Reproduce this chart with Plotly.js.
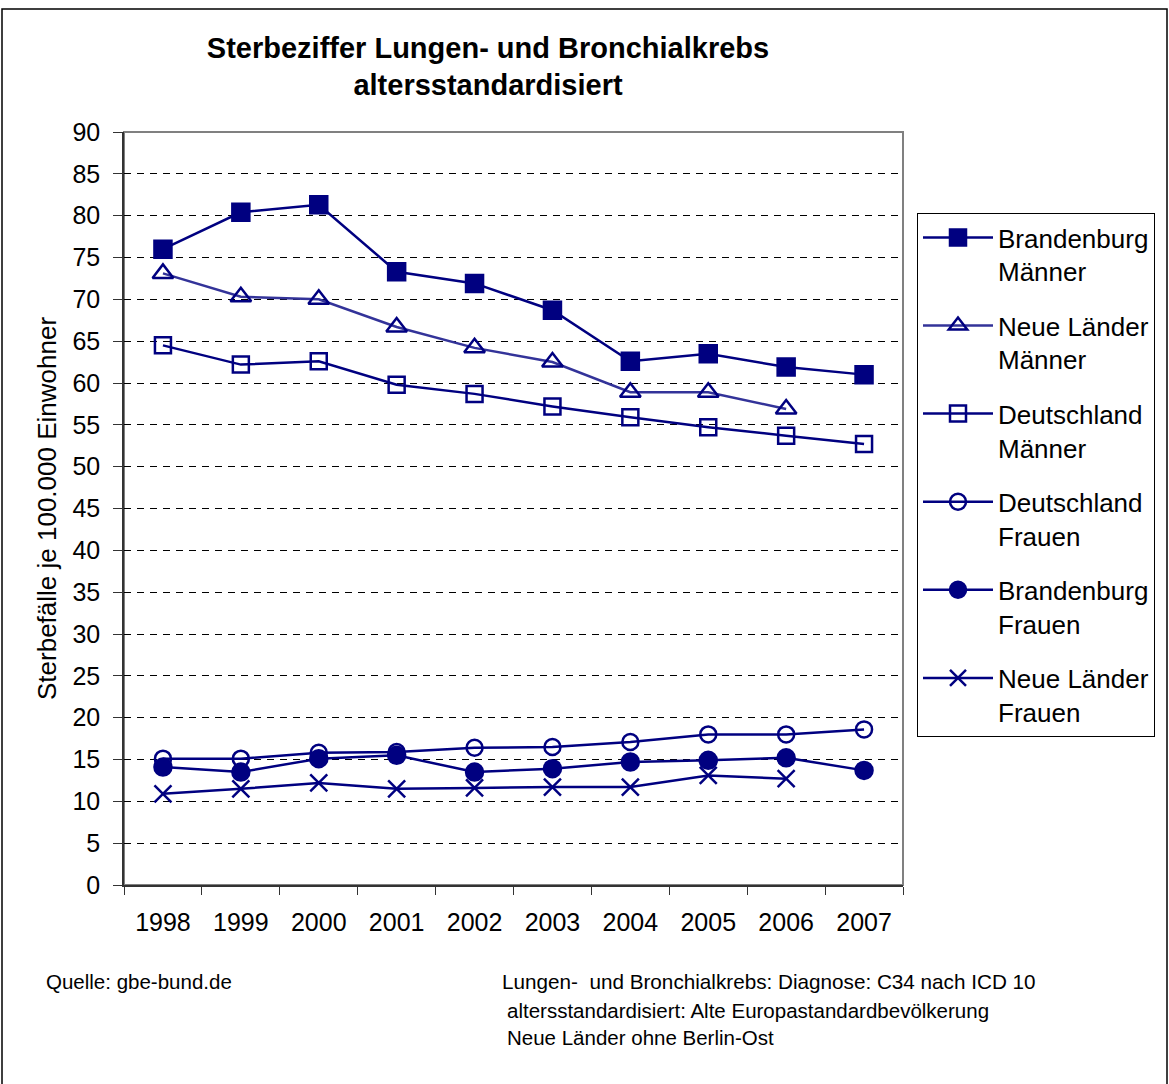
<!DOCTYPE html>
<html>
<head>
<meta charset="utf-8">
<script src="https://cdn.plot.ly/plotly-3.0.1.min.js"></script>
<style>
  html, body { margin: 0; padding: 0; background: #fff; }
  #chart { width: 1169px; height: 1084px; }
</style>
</head>
<body>
<div id="chart"></div>
<script>
const years = ['1998', '1999', '2000', '2001', '2002', '2003', '2004', '2005', '2006', '2007'];

const brandenburgMaenner = [76.0, 80.4, 81.3, 73.3, 71.9, 68.7, 62.6, 63.5, 61.9, 61.0];
const neueLaenderMaenner = [73.1, 70.3, 70.0, 66.7, 64.2, 62.5, 58.9, 58.9, 56.9, null];
const deutschlandMaenner = [64.5, 62.2, 62.6, 59.8, 58.7, 57.2, 55.9, 54.7, 53.7, 52.7];
const deutschlandFrauen  = [15.1, 15.1, 15.8, 15.9, 16.4, 16.5, 17.1, 18.0, 18.0, 18.6];
const brandenburgFrauen  = [14.1, 13.5, 15.1, 15.5, 13.5, 13.9, 14.7, 14.9, 15.2, 13.7];
const neueLaenderFrauen  = [10.9, 11.5, 12.2, 11.5, 11.6, 11.7, 11.7, 13.1, 12.7, null];

const seriesNames = [
  'Brandenburg<br>Männer',
  'Neue Länder<br>Männer',
  'Deutschland<br>Männer',
  'Deutschland<br>Frauen',
  'Brandenburg<br>Frauen',
  'Neue Länder<br>Frauen'
];

const NAVY = '#000080';
const FONT = 'Liberation Sans, Arial, sans-serif';

function trace(name, y, symbol, size, lineColor, lineWidth, group) {
  return {
    type: 'scatter',
    mode: 'lines+markers',
    x: years,
    y: y,
    name: name,
    legendgroup: group,
    connectgaps: false,
    line: { color: lineColor, width: lineWidth },
    marker: { symbol: symbol, size: size, color: NAVY, line: { color: NAVY, width: 2.5 } },
    cliponaxis: false,
    hoverinfo: 'x+y+name'
  };
}

const data = [
  trace(seriesNames[0], brandenburgMaenner, 'square', 17, NAVY, 2.5, 'g1'),
  trace(seriesNames[1], neueLaenderMaenner, 'triangle-up-open', 18, '#333399', 2.5, 'g2'),
  trace(seriesNames[2], deutschlandMaenner, 'square-open', 16, NAVY, 2.5, 'g3'),
  trace(seriesNames[3], deutschlandFrauen, 'circle-open', 16, NAVY, 2.5, 'g4'),
  trace(seriesNames[4], brandenburgFrauen, 'circle', 17, NAVY, 2.5, 'g5'),
  trace(seriesNames[5], neueLaenderFrauen, 'x-thin-open', 17, NAVY, 2.5, 'g6')
];

// plot area: x 124..903, y 132..885
const L = 124, R = 903, T = 132, B = 885, W = 1169, H = 1084;
const pw = R - L, ph = B - T;
const px = v => (v - L) / pw;
const py = v => (B - v) / ph;

const layout = {
  width: W,
  height: H,
  margin: { l: L, r: W - R, t: T, b: H - B, pad: 0 },
  paper_bgcolor: '#ffffff',
  plot_bgcolor: '#ffffff',
  font: { family: FONT, color: '#000000', size: 25 },
  title: {
    text: 'Sterbeziffer Lungen- und Bronchialkrebs<br>altersstandardisiert',
    font: { family: FONT, size: 29, color: '#000000', weight: 'bold' },
    x: 488 / W,
    xref: 'container',
    xanchor: 'center',
    y: 1 - 57.5 / H,
    yref: 'container',
    yanchor: 'middle'
  },
  xaxis: {
    type: 'category',
    range: [-0.5, 9.5],
    tickson: 'boundaries',
    ticks: 'outside',
    ticklen: 8,
    tickwidth: 1,
    tickcolor: '#333333',
    showline: true,
    linecolor: '#333333',
    linewidth: 1.5,
    showgrid: false,
    zeroline: false,
    ticklabelstandoff: 14,
    tickfont: { family: FONT, size: 25, color: '#000' },
    fixedrange: true
  },
  yaxis: {
    range: [0, 90],
    dtick: 5,
    tick0: 0,
    ticks: 'outside',
    ticklen: 9,
    tickwidth: 1,
    tickcolor: '#333333',
    showline: true,
    linecolor: '#333333',
    linewidth: 1.5,
    showgrid: true,
    gridcolor: '#000000',
    gridwidth: 1,
    griddash: '7px,6px',
    zeroline: false,
    ticklabelstandoff: 8,
    tickfont: { family: FONT, size: 25, color: '#000' },
    title: {
      text: 'Sterbefälle je 100.000 Einwohner',
      font: { family: FONT, size: 26, color: '#000' },
      standoff: 8
    },
    fixedrange: true
  },
  showlegend: true,
  legend: {
    x: px(917),
    y: py(213),
    xanchor: 'left',
    yanchor: 'top',
    bgcolor: '#ffffff',
    bordercolor: '#000000',
    borderwidth: 1,
    font: { family: FONT, size: 26, color: '#000' },
    valign: 'top',
    itemwidth: 70,
    traceorder: 'grouped',
    tracegroupgap: 17.5
  },
  shapes: [
    { type: 'rect', xref: 'paper', yref: 'paper', x0: 0, x1: 1, y0: 0, y1: 1,
      line: { color: '#808080', width: 2 }, layer: 'below' },
    { type: 'rect', xref: 'paper', yref: 'paper',
      x0: px(2), x1: px(1167), y0: py(1095), y1: py(9),
      line: { color: '#000000', width: 1.5 }, layer: 'below' }
  ],
  annotations: [
    { text: 'Quelle: gbe-bund.de', xref: 'paper', yref: 'paper',
      x: px(44), y: py(982), xanchor: 'left', yanchor: 'middle', showarrow: false,
      font: { family: FONT, size: 20.5, color: '#000' } },
    { text: 'Lungen-  und Bronchialkrebs: Diagnose: C34 nach ICD 10', xref: 'paper', yref: 'paper',
      x: px(500), y: py(982), xanchor: 'left', yanchor: 'middle', showarrow: false,
      font: { family: FONT, size: 20.7, color: '#000' } },
    { text: 'altersstandardisiert: Alte Europastandardbevölkerung', xref: 'paper', yref: 'paper',
      x: px(505), y: py(1010), xanchor: 'left', yanchor: 'middle', showarrow: false,
      font: { family: FONT, size: 20.5, color: '#000' } },
    { text: 'Neue Länder ohne Berlin-Ost', xref: 'paper', yref: 'paper',
      x: px(505), y: py(1037), xanchor: 'left', yanchor: 'middle', showarrow: false,
      font: { family: FONT, size: 20.5, color: '#000' } }
  ]
};

Plotly.newPlot('chart', data, layout, { displayModeBar: false });
</script>
</body>
</html>
